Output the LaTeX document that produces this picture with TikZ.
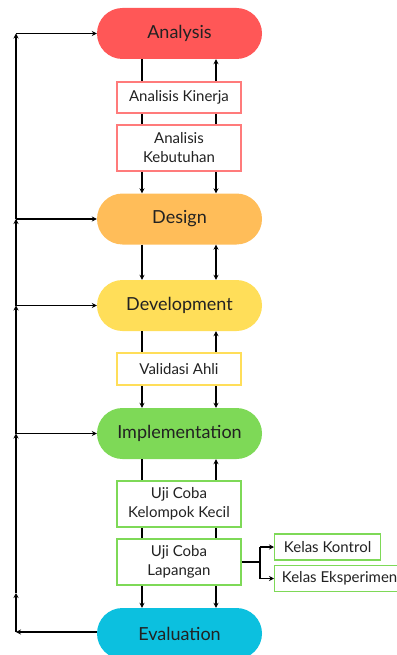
\documentclass[tikz,border=0pt]{standalone}
\usepackage{fontspec}
\setmainfont{Lato}
\usetikzlibrary{arrows.meta}
\definecolor{cAna}{HTML}{FF5757}
\definecolor{cDes}{HTML}{FFBD59}
\definecolor{cDev}{HTML}{FFDE59}
\definecolor{cImp}{HTML}{7ED957}
\definecolor{cEva}{HTML}{0CC0DF}
\definecolor{cAnaL}{HTML}{FF7B7B}
\definecolor{txt}{HTML}{222222}
\tikzset{
  pill/.style={draw=none, minimum width=165pt, minimum height=51pt, rounded corners=25.5pt, font=\fontsize{18}{21}\selectfont, text=txt, inner sep=0pt},
  sbox/.style={draw, line width=1.2pt, fill=white, minimum width=124pt, align=center, font=\fontsize{15}{19}\selectfont, text=txt, inner sep=0pt},
  side/.style={draw, line width=1.2pt, fill=white, minimum height=26pt, font=\fontsize{15}{17}\selectfont, text=txt, inner sep=0pt, inner xsep=7pt, anchor=west},
  arr/.style={line width=1.3pt, -{Stealth[length=5pt,width=5pt]}},
  barr/.style={line width=1.3pt, {Stealth[length=5pt,width=5pt]}-{Stealth[length=5pt,width=5pt]}},
  ln/.style={line width=1.3pt}
}
\begin{document}
\begin{tikzpicture}[x=1pt,y=-1pt]
\useasboundingbox (0,0) rectangle (396,655);
% pills
\node[pill, fill=cAna] (ana) at (179.5,33.5) {Analysis};
\node[pill, fill=cDes] (des) at (179.5,219) {Design};
\node[pill, fill=cDev] (dev) at (179.5,305.5) {Development};
\node[pill, fill=cImp] (imp) at (179.5,433.5) {Implementation};
\node[pill, fill=cEva] (eva) at (179.5,633.5) {Evaluation};
% vertical connectors
\foreach \a/\b in {ana/des, des/dev, dev/imp, imp/eva}{
  \draw[arr] (\a.south -| 142,0) -- (\b.north -| 142,0);
  \draw[barr] (\a.south -| 216,0) -- (\b.north -| 216,0);
}
% boxes
\node[sbox, draw=cAnaL, minimum height=31pt] (kin) at (179,97.5) {Analisis Kinerja};
\node[sbox, draw=cAnaL, minimum height=46pt] (keb) at (179,148) {Analisis\\Kebutuhan};
\node[sbox, draw=cDev, minimum height=32pt] (val) at (179,369) {Validasi Ahli};
\node[sbox, draw=cImp, minimum height=46pt] (kk) at (179,504) {Uji Coba\\Kelompok Kecil};
\node[sbox, draw=cImp, minimum height=46pt] (lap) at (179,562) {Uji Coba\\Lapangan};
\node[side, draw=cImp, minimum width=106pt] (kon) at (274,547) {Kelas Kontrol};
\node[side, draw=cImp, minimum width=130pt, align=left] (eks) at (274,578.5) {Kelas Eksperimen};
% branch
\coordinate (br) at (260,562);
\coordinate (brt) at (260,547);
\coordinate (brb) at (260,578.5);
\draw[ln] (lap.east) -- (br);
\draw[ln] (brt) -- (brb);
\draw[arr] (brt) -- (kon.west);
\draw[arr] (brb) -- (eks.west);
% feedback loop
\coordinate (f0) at (16,632);
\coordinate (f1) at (16,593);
\coordinate (f2) at (16,433.5);
\coordinate (f3) at (16,305.5);
\coordinate (f4) at (16,219);
\coordinate (f5) at (16,33.5);
\draw[arr] (eva.west |- f0) -- (f0);
\draw[arr] (f0) -- (f1);
\draw[arr] (f1) -- (f2);
\draw[arr] (f2) -- (f3);
\draw[arr] (f3) -- (f4);
\draw[arr] (f4) -- (f5);
\draw[arr] (f5) -- (ana.west);
\draw[arr] (f4) -- (des.west);
\draw[arr] (f3) -- (dev.west);
\draw[arr] (f2) -- (imp.west);
\end{tikzpicture}
\end{document}
